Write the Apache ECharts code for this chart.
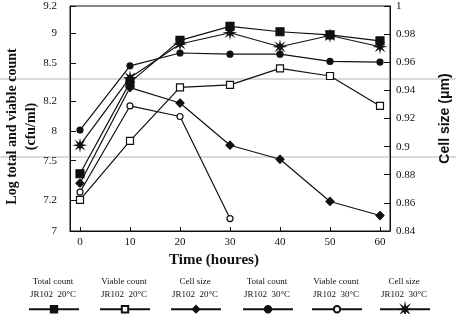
<!DOCTYPE html>
<html>
<head>
<meta charset="utf-8">
<script src="https://cdn.jsdelivr.net/npm/echarts@6/dist/echarts.min.js"></script>
<style>
  html, body { margin: 0; padding: 0; background: #fff; }
  #chart { width: 456px; height: 314px; }
</style>
</head>
<body>
<div id="chart"></div>
<script>
// hours on x axis
const hours = [0, 10, 20, 30, 40, 50, 60]
const hourTicks = [0, 10, 20, 30, 40, 50, 60]

// log counts (cfu/ml), left axis
const total20 = [7.40, 8.35, 8.88, 9.05, 9.01, 8.97, 8.87]
const viable20 = [7.20, 7.84, 8.31, 8.33, 8.46, 8.40, 8.17]
const total30 = [8.01, 8.48, 8.67, 8.65, 8.65, 8.53, 8.52]
const viable30 = [7.26, 8.17, 8.10, 7.08]

// cell size (um), right axis
const cell20 = [0.874, 0.942, 0.931, 0.901, 0.891, 0.861, 0.851]
const cell30 = [0.901, 0.949, 0.973, 0.981, 0.971, 0.979, 0.971]

// the left axis of the original is not evenly spaced: labels and where they sit (0..8 steps)
const leftTicks = [7, 7.2, 7.5, 8, 8.2, 8.5, 9, 9.2]
const leftStops = [0, 1.107, 2.5, 3.536, 4.607, 5.964, 7.036, 8]

const legendNames = [
  'Total count\nJR102  20°C', 'Viable count\nJR102  20°C', 'Cell size\nJR102  20°C',
  'Total count\nJR102  30°C', 'Viable count\nJR102  30°C', 'Cell size\nJR102  30°C'
]
const legendCenters = [53, 124, 195, 267, 336, 404]

// piecewise scale for the left axis
function toLeft(v) {
  for (let i = 0; i < leftTicks.length - 1; i++) {
    if (v <= leftTicks[i + 1] || i === leftTicks.length - 2) {
      const t = (v - leftTicks[i]) / (leftTicks[i + 1] - leftTicks[i])
      return leftStops[i] + t * (leftStops[i + 1] - leftStops[i])
    }
  }
}

const starPath = 'path://M20 10 L13.23 11.34 L17.07 17.07 L11.34 13.23 L10 20 L8.66 13.23 L2.93 17.07 L6.77 11.34 L0 10 L6.77 8.66 L2.93 2.93 L8.66 6.77 L10 0 L11.34 6.77 L17.07 2.93 L13.23 8.66 Z'
const serif = 'Liberation Serif'

function lineSeries(name, vals, axis, symbol, size, fill) {
  return {
    name: name,
    type: 'line',
    yAxisIndex: axis,
    symbol: symbol,
    symbolSize: size,
    showAllSymbol: true,
    data: vals.map((v, i) => [hours[i], axis === 0 ? toLeft(v) : v]),
    lineStyle: { color: '#111', width: 1.2 },
    itemStyle: { color: fill, borderColor: '#111', borderWidth: 1.2 },
    emphasis: { disabled: true },
    silent: true,
    animation: false
  }
}

const chart = echarts.init(document.getElementById('chart'))

const option = {
  animation: false,
  textStyle: { fontFamily: serif },
  grid: {
    left: 70, right: 66, top: 6, bottom: 83,
    outerBoundsMode: 'none',
    containLabel: false,
    show: true, borderColor: '#111', borderWidth: 1
  },
  xAxis: {
    type: 'value',
    min: -2,
    max: 62,
    axisLine: { onZero: false, lineStyle: { color: '#111' } },
    axisTick: { inside: true, length: 4, customValues: hourTicks, lineStyle: { color: '#111' } },
    axisLabel: { customValues: hourTicks, color: '#111', fontSize: 11, fontFamily: serif, margin: 6 },
    splitLine: { show: false },
    name: 'Time (houres)',
    nameLocation: 'middle',
    nameGap: 17,
    nameTextStyle: { fontSize: 15, fontWeight: 'bold', color: '#111', fontFamily: serif, padding: [0, 32, 0, 0] }
  },
  yAxis: [
    {
      type: 'value',
      min: 0,
      max: 8,
      position: 'left',
      axisLine: { show: true, onZero: false, lineStyle: { color: '#111' } },
      axisTick: { show: true, inside: true, length: 6, customValues: leftStops, lineStyle: { color: '#111' } },
      axisLabel: {
        customValues: leftStops,
        color: '#111', fontSize: 11, fontFamily: serif, margin: 13,
        formatter: function(v) {
          let k = 0
          leftStops.forEach((s, i) => { if (Math.abs(s - v) < Math.abs(leftStops[k] - v)) k = i })
          return String(leftTicks[k])
        }
      },
      splitLine: { show: false },
      name: 'Log total and viable count\n(cfu/ml)',
      nameLocation: 'middle',
      nameRotate: 90,
      nameGap: 29,
      nameMoveOverlap: false,
      nameTextStyle: { fontSize: 14, fontWeight: 'bold', color: '#111', fontFamily: serif, lineHeight: 19, padding: [0, 16, 0, 0] }
    },
    {
      type: 'value',
      min: 0.84,
      max: 1,
      interval: 0.02,
      position: 'right',
      axisLine: { show: true, onZero: false, lineStyle: { color: '#111' } },
      axisTick: { show: true, inside: true, length: 6, lineStyle: { color: '#111' } },
      axisLabel: {
        color: '#111', fontSize: 11, fontFamily: serif, margin: 6,
        formatter: v => String(+v.toFixed(2))
      },
      splitLine: { show: false },
      name: 'Cell size (μm)',
      nameLocation: 'middle',
      nameRotate: 90,
      nameGap: 48,
      nameTextStyle: { fontSize: 14, fontWeight: 'bold', color: '#111', fontFamily: 'Liberation Sans' }
    }
  ],
  legend: legendNames.map((n, i) => ({
    data: [n],
    left: legendCenters[i] - 30,
    top: 300,
    itemWidth: 50,
    itemHeight: 8,
    itemGap: 0,
    selectedMode: false,
    formatter: () => '',
    textStyle: { fontSize: 1 }
  })),
  graphic: [
    { type: 'line', silent: true, z: 0, shape: { x1: 0, y1: 79, x2: 456, y2: 79 }, style: { stroke: '#b4b4b4', lineWidth: 1 } },
    { type: 'line', silent: true, z: 0, shape: { x1: 0, y1: 157, x2: 456, y2: 157 }, style: { stroke: '#b4b4b4', lineWidth: 1 } }
  ].concat(legendNames.map((n, i) => ({
    type: 'text',
    silent: true,
    x: legendCenters[i],
    y: 288,
    style: {
      text: n,
      fill: '#111',
      font: '9px "Liberation Serif"',
      lineHeight: 13,
      textAlign: 'center',
      textVerticalAlign: 'middle'
    }
  }))),
  series: [
    lineSeries(legendNames[0], total20, 0, 'rect', 8, '#111'),
    lineSeries(legendNames[1], viable20, 0, 'rect', 7, '#fff'),
    lineSeries(legendNames[2], cell20, 1, 'diamond', 8, '#111'),
    lineSeries(legendNames[3], total30, 0, 'circle', 6, '#111'),
    lineSeries(legendNames[4], viable30, 0, 'circle', 6, '#fff'),
    lineSeries(legendNames[5], cell30, 1, starPath, 9, '#111')
  ]
}

chart.setOption(option)
window.onresize = function() {
  chart.resize()
}
</script>
</body>
</html>
